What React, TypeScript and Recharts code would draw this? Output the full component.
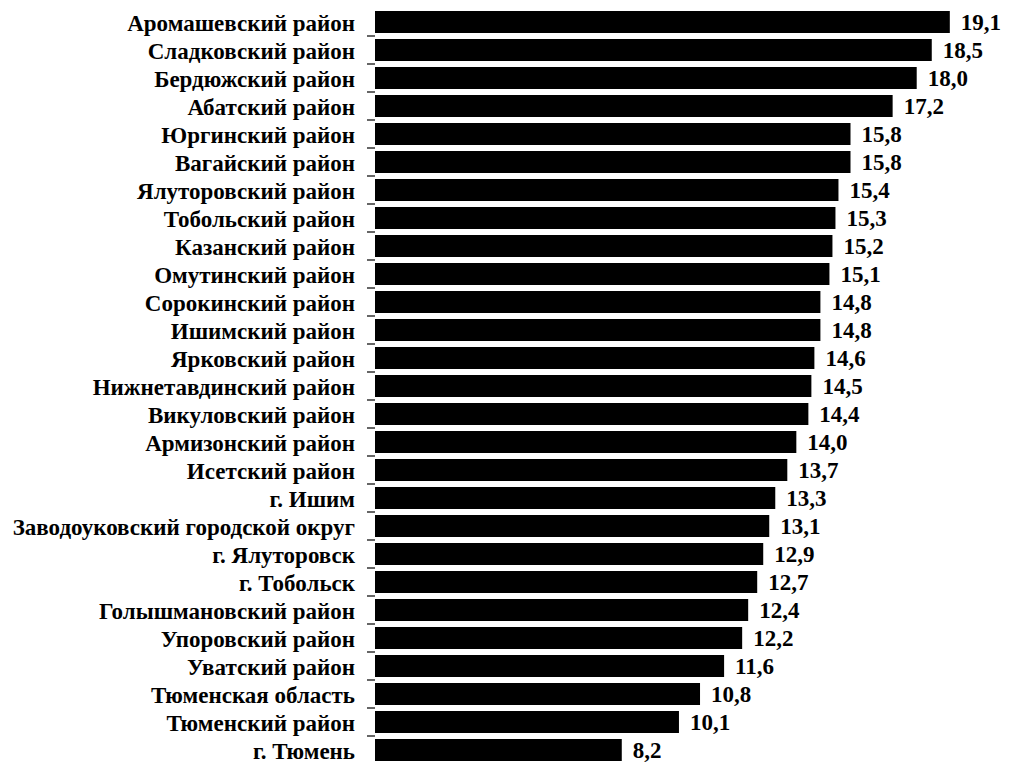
import React from "react";
import { BarChart, Bar, XAxis, YAxis, LabelList } from "recharts";

const categories = [
  "Аромашевский район",
  "Сладковский район",
  "Бердюжский район",
  "Абатский район",
  "Юргинский район",
  "Вагайский район",
  "Ялуторовский район",
  "Тобольский район",
  "Казанский район",
  "Омутинский район",
  "Сорокинский район",
  "Ишимский район",
  "Ярковский район",
  "Нижнетавдинский район",
  "Викуловский район",
  "Армизонский район",
  "Исетский район",
  "г. Ишим",
  "Заводоуковский городской округ",
  "г. Ялуторовск",
  "г. Тобольск",
  "Голышмановский район",
  "Упоровский район",
  "Уватский район",
  "Тюменская область",
  "Тюменский район",
  "г. Тюмень",
];

const values = [
  19.1, 18.5, 18.0, 17.2, 15.8, 15.8, 15.4, 15.3, 15.2, 15.1, 14.8, 14.8, 14.6, 14.5,
  14.4, 14.0, 13.7, 13.3, 13.1, 12.9, 12.7, 12.4, 12.2, 11.6, 10.8, 10.1, 8.2,
];

const data = categories.map((name, i) => ({ name, value: values[i] }));

const FONT = "Liberation Serif, Times New Roman, serif";
const HALF_BAND = 14;

function CategoryTick({ x, y, payload }: any) {
  return (
    <g>
      <text
        x={x}
        y={y}
        dy={8.5}
        textAnchor="end"
        style={{ fill: "#000", fontFamily: FONT, fontWeight: 700, fontSize: 23 }}
      >
        {payload.value}
      </text>
      <line x1={x + 12} x2={x + 20} y1={y + HALF_BAND} y2={y + HALF_BAND} stroke="#333" strokeWidth={1.5} />
    </g>
  );
}

export default function App() {
  return (
    <div style={{ position: "absolute", left: 0, top: 0, width: 1016, height: 763, overflow: "hidden", background: "#fff" }}>
      <BarChart
        width={1016}
        height={772}
        data={data}
        layout="vertical"
        margin={{ top: 8, right: 9, left: 0, bottom: 8 }}
      >
        <XAxis type="number" domain={[0, 21]} hide />
        <YAxis
          type="category"
          dataKey="name"
          width={375}
          axisLine={false}
          tickLine={false}
          tickSize={8}
          tickMargin={12}
          interval={0}
          tick={<CategoryTick />}
        />
        <Bar dataKey="value" fill="#000" barSize={22} isAnimationActive={false}>
          <LabelList
            dataKey="value"
            position="right"
            offset={11}
            formatter={(v: any) => Number(v).toFixed(1).replace(".", ",")}
            style={{ fill: "#000", fontFamily: FONT, fontWeight: 700, fontSize: 23 }}
          />
        </Bar>
      </BarChart>
    </div>
  );
}
